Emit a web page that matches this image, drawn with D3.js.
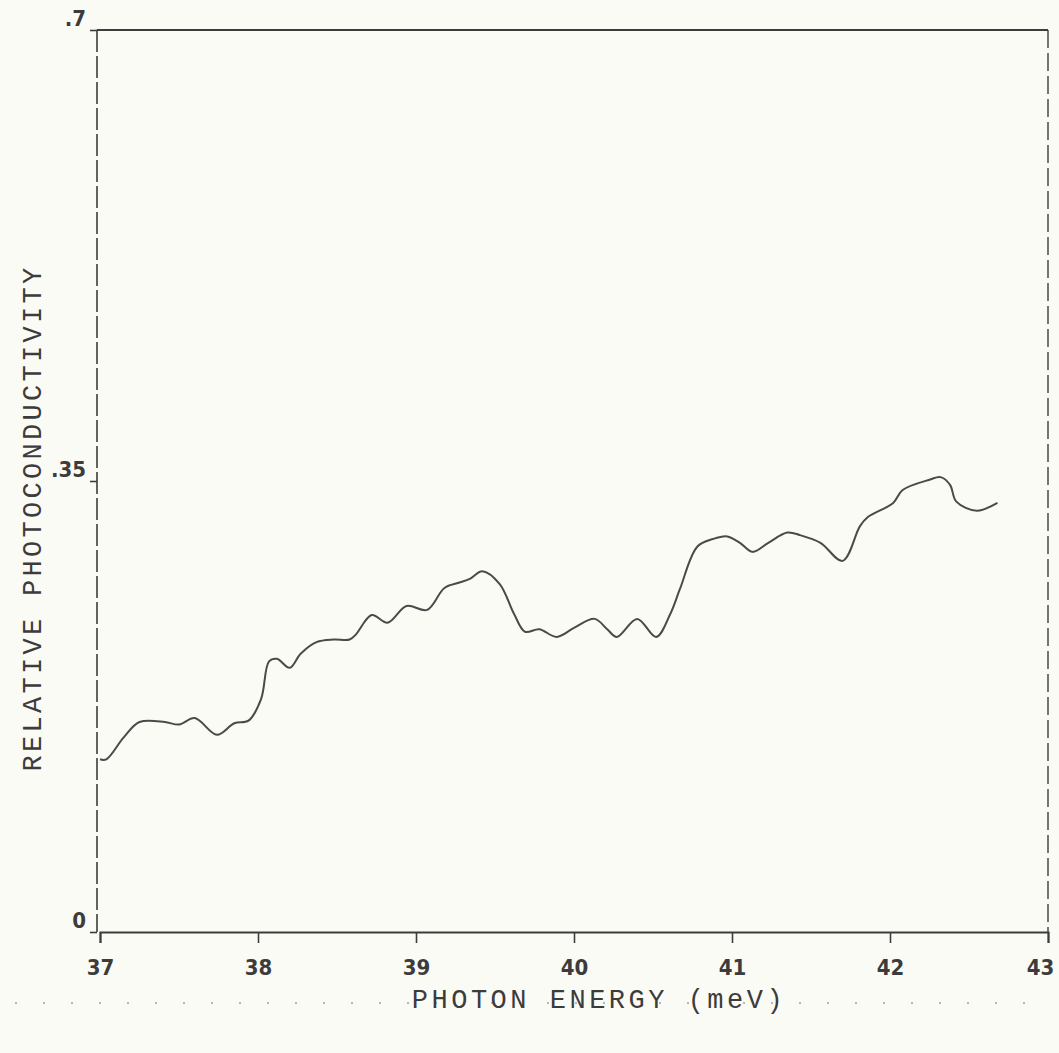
<!DOCTYPE html>
<html>
<head>
<meta charset="utf-8">
<script src="https://cdn.jsdelivr.net/npm/d3@7"></script>
<style>
  body { margin: 0; background: #fbfbf6; }
  svg { display: block; }
</style>
</head>
<body>
<div id="chart"></div>
<script>
// photon energy (meV)
const energy = [37.0, 37.04, 37.15, 37.25, 37.41, 37.50, 37.60, 37.74, 37.85, 37.94,
  38.02, 38.07, 38.12, 38.20, 38.27, 38.37, 38.48, 38.58, 38.62, 38.72,
  38.82, 38.94, 39.07, 39.18, 39.27, 39.34, 39.42, 39.53, 39.62, 39.69,
  39.78, 39.89, 40.00, 40.13, 40.21, 40.27, 40.40, 40.52, 40.61, 40.67,
  40.78, 40.88, 40.97, 41.05, 41.13, 41.23, 41.35, 41.43, 41.56, 41.70,
  41.81, 41.86, 42.02, 42.08, 42.25, 42.32, 42.38, 42.42, 42.55, 42.68];
// relative photoconductivity
const photo = [0.134, 0.134, 0.151, 0.163, 0.163, 0.161, 0.166, 0.153, 0.162, 0.164,
  0.181, 0.210, 0.212, 0.205, 0.216, 0.225, 0.227, 0.227, 0.231, 0.246,
  0.240, 0.253, 0.250, 0.267, 0.271, 0.274, 0.280, 0.270, 0.247, 0.233,
  0.235, 0.229, 0.236, 0.243, 0.235, 0.229, 0.243, 0.229, 0.247, 0.266,
  0.299, 0.305, 0.307, 0.302, 0.295, 0.302, 0.310, 0.308, 0.302, 0.288,
  0.315, 0.322, 0.333, 0.343, 0.351, 0.353, 0.347, 0.334, 0.327, 0.333];

const xTicks = [37, 38, 39, 40, 41, 42, 43];
const xTickLabels = ['37', '38', '39', '40', '41', '42', '43'];
const yTicks = [0, 0.35, 0.7];
const yTickLabels = ['0', '.35', '.7'];

const width = 1059, height = 1053;
const margin = { left: 100, right: 1048, top: 30, bottom: 932 };

const svg = d3.select('#chart').append('svg')
  .attr('width', width)
  .attr('height', height);

svg.append('rect').attr('width', width).attr('height', height).attr('fill', '#fbfbf6');

const x = d3.scaleLinear().domain([37, 43]).range([margin.left, margin.right]);
const y = d3.scaleLinear().domain([0, 0.7]).range([margin.bottom, margin.top]);

const ink = '#3c3c3c';
const tickFont = '"DejaVu Sans Condensed", "DejaVu Sans", sans-serif';
const titleFont = '"Liberation Mono", "DejaVu Sans Mono", monospace';

// frame: top solid, sides dashed like the plotter scan
svg.append('line')
  .attr('x1', margin.left - 3).attr('x2', margin.right).attr('y1', margin.top).attr('y2', margin.top)
  .attr('stroke', ink).attr('stroke-width', 2);
svg.append('line')
  .attr('x1', margin.left - 3).attr('x2', margin.left - 3).attr('y1', margin.top).attr('y2', margin.bottom)
  .attr('stroke', ink).attr('stroke-width', 1.6)
  .attr('stroke-dasharray', '22,4');
svg.append('line')
  .attr('x1', margin.right).attr('x2', margin.right).attr('y1', margin.top).attr('y2', margin.bottom)
  .attr('stroke', ink).attr('stroke-width', 1.4)
  .attr('stroke-dasharray', '18,5');

// x axis
const xAxis = svg.append('g')
  .attr('transform', `translate(0,${margin.bottom})`)
  .call(d3.axisBottom(x).tickValues(xTicks).tickSize(11).tickPadding(16)
    .tickFormat((d, i) => xTickLabels[i]));
xAxis.select('.domain').attr('stroke', ink).attr('stroke-width', 2);
xAxis.selectAll('.tick line').attr('stroke', ink).attr('stroke-width', 1.6);
xAxis.selectAll('.tick text')
  .attr('font-family', tickFont)
  .attr('font-weight', 700)
  .attr('font-size', 22)
  .attr('fill', ink);
// last label sits just inside the page edge
xAxis.selectAll('.tick text').filter(d => d === 43).attr('dx', -8);

// y axis ticks (short, to the left)
const yAxis = svg.append('g')
  .attr('transform', `translate(${margin.left - 3},0)`)
  .call(d3.axisLeft(y).tickValues(yTicks).tickSize(7).tickPadding(4)
    .tickFormat((d, i) => yTickLabels[i]));
yAxis.select('.domain').remove();
yAxis.selectAll('.tick line').attr('stroke', ink).attr('stroke-width', 1.6);
yAxis.selectAll('.tick text')
  .attr('dy', '-0.2em')
  .attr('font-family', tickFont)
  .attr('font-weight', 700)
  .attr('font-size', 22)
  .attr('fill', ink);

// data curve
const points = energy.map((e, i) => [e, photo[i]]);
svg.append('path')
  .datum(points)
  .attr('fill', 'none')
  .attr('stroke', '#4a4a4a')
  .attr('stroke-width', 2)
  .attr('d', d3.line().x(d => x(d[0])).y(d => y(d[1])).curve(d3.curveCatmullRom));

// perforation dots along the bottom of the sheet
svg.append('line')
  .attr('x1', 15).attr('x2', 1045).attr('y1', 1003).attr('y2', 1003)
  .attr('stroke', '#b8b8b0').attr('stroke-width', 2)
  .attr('stroke-dasharray', '2,26');

// axis titles
svg.append('text')
  .attr('x', 599).attr('y', 1008)
  .attr('text-anchor', 'middle')
  .attr('font-family', titleFont)
  .attr('font-size', 27)
  .attr('letter-spacing', 3.5)
  .attr('fill', ink)
  .text('PHOTON ENERGY (meV)');

svg.append('text')
  .attr('transform', 'translate(41,518) rotate(-90)')
  .attr('text-anchor', 'middle')
  .attr('font-family', titleFont)
  .attr('font-size', 27)
  .attr('letter-spacing', 3.3)
  .attr('fill', ink)
  .text('RELATIVE PHOTOCONDUCTIVITY');
</script>
</body>
</html>
